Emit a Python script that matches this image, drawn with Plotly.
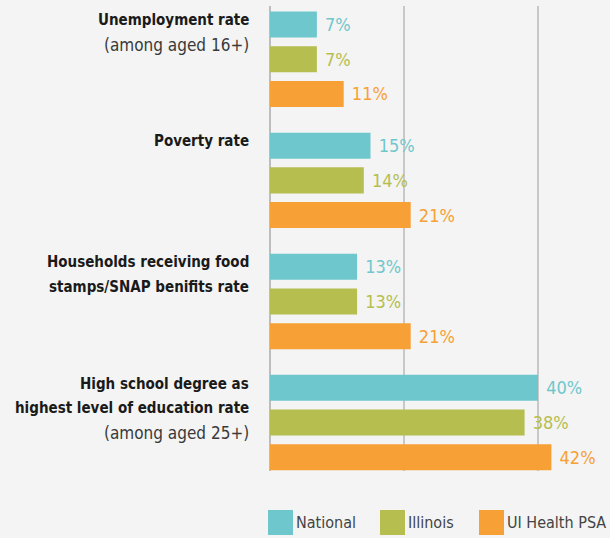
import plotly.graph_objects as go

# Indicator groups (top to bottom)
categories = ["unemp", "poverty", "snap", "hs"]
label_bold = [
    ["Unemployment rate"],
    ["Poverty rate"],
    ["Households receiving food", "stamps/SNAP benifits rate"],
    ["High school degree as", "highest level of education rate"],
]
label_note = ["(among aged 16+)", "", "", "(among aged 25+)"]

series_names = ["National", "Illinois", "UI Health PSA"]
national = [7, 15, 13, 40]
illinois = [7, 14, 13, 38]
ui_health = [11, 21, 21, 42]

colors = ["#6fc7ce", "#b6be50", "#f7a035"]
BG = "#f3f4f3"
FONT = "DejaVu Sans Condensed, Liberation Sans Narrow, sans-serif"

fig = go.Figure()
for name, vals, col in zip(series_names, [national, illinois, ui_health], colors):
    fig.add_trace(go.Bar(
        y=categories, x=vals, name=name, orientation="h",
        marker=dict(color=col, line=dict(width=0)),
        texttemplate=" %{x}%", textposition="outside",
        textfont=dict(family=FONT, size=18, color=col),
        cliponaxis=False, showlegend=False,
    ))

# Category labels to the left of each group, one annotation per line
annotations = []
LINE = 24.5
for cat, lines, note in zip(categories, label_bold, label_note):
    rows = [("<b>" + t + "</b>", "#1a1a1a", 15) for t in lines]
    if note:
        rows.append((note, "#3a3a3a", 17))
    for i, (txt, c, sz) in enumerate(rows):
        annotations.append(dict(
            x=0, xref="paper", xanchor="right", xshift=-19,
            y=cat, yref="y", yanchor="middle", yshift=39 - i * LINE,
            text=txt, showarrow=False, align="right",
            font=dict(family=FONT, size=sz, color=c),
        ))

# Legend drawn as swatches below the plot area
shapes = []
PLOT_L, PLOT_W, PLOT_B, PLOT_H = 270, 335, 471, 465
legend_x = [268, 380, 479]
for name, col, lx in zip(series_names, colors, legend_x):
    x0 = (lx - PLOT_L) / PLOT_W
    x1 = (lx + 25 - PLOT_L) / PLOT_W
    y0 = (PLOT_B - 535) / PLOT_H
    y1 = (PLOT_B - 510) / PLOT_H
    shapes.append(dict(type="rect", xref="paper", yref="paper",
                       x0=x0, x1=x1, y0=y0, y1=y1,
                       fillcolor=col, line=dict(width=0)))
    annotations.append(dict(
        x=x1, xref="paper", xanchor="left", xshift=1,
        y=(y0 + y1) / 2, yref="paper", yanchor="middle",
        text=name, showarrow=False,
        font=dict(family=FONT, size=16, color="#444444"),
    ))

fig.update_layout(
    width=610, height=538,
    margin=dict(l=270, r=5, t=6, b=67),
    paper_bgcolor=BG, plot_bgcolor=BG,
    barmode="group", bargap=0.14, bargroupgap=0.25,
    annotations=annotations, shapes=shapes,
    xaxis=dict(range=[0, 50], dtick=20, showticklabels=False,
               showgrid=True, gridcolor="#c8c8c8", gridwidth=1.5,
               zeroline=True, zerolinecolor="#bdbdbd", zerolinewidth=2,
               fixedrange=True),
    yaxis=dict(categoryorder="array", categoryarray=categories,
               range=[3.40, -0.44], showticklabels=False,
               showgrid=False, zeroline=False, fixedrange=True),
)

fig.write_html("out.html", config={"displayModeBar": False})
